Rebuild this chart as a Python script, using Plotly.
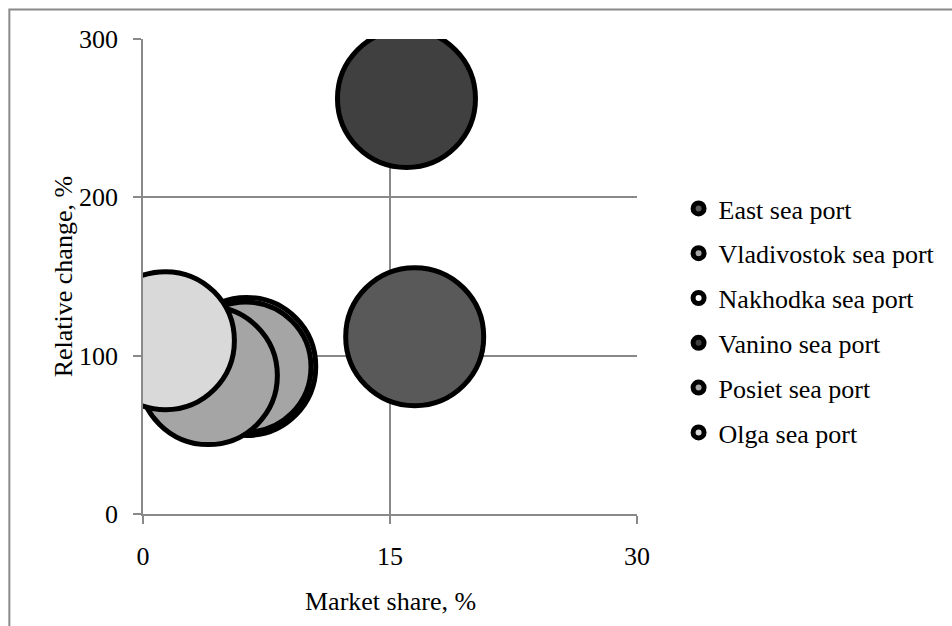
import plotly.graph_objects as go

# ---- data ----
ports = ["East sea port", "Vladivostok sea port", "Nakhodka sea port",
         "Vanino sea port", "Posiet sea port", "Olga sea port"]
market_share = [16.5, 6.25, 6.3, 16.0, 3.97, 1.36]          # %
relative_change = [112.0, 92.8, 93.2, 262.4, 87.4, 109.5]   # %
bubble_size = [1.0, 0.89, 1.0, 1.0, 1.0, 1.0]
fill_colors = ["#595959", "#A5A5A5", "#FFFFFF", "#404040", "#A5A5A5", "#D9D9D9"]
x_ticks = [0, 15, 30]
y_ticks = [0, 100, 200, 300]

draw_order = [0, 3, 2, 1, 4, 5]   # Nakhodka lies beneath Vladivostok

FONT = "Liberation Serif"
GRID = "#898989"
BUBBLE_D = 138
sizeref = 2.0 * max(bubble_size) / BUBBLE_D ** 2

fig = go.Figure()
for i in draw_order:
    fig.add_trace(go.Scatter(
        x=[market_share[i]], y=[relative_change[i]], mode="markers",
        marker=dict(size=[bubble_size[i]], sizemode="area", sizeref=sizeref,
                    color=fill_colors[i], opacity=1,
                    line=dict(color="black", width=5)),
        name=ports[i], showlegend=False, cliponaxis=True, hoverinfo="skip"))

# legend entries (small ringed markers as in the original)
for i, p in enumerate(ports):
    fig.add_trace(go.Scatter(
        x=[None], y=[None], mode="markers", name=p, legendgroup=p,
        marker=dict(size=11, color=fill_colors[i], line=dict(color="black", width=5))))

L, R, T, B = 143, 642, 39, 514
W, H = 952, 626
PW, PH = R - L, B - T
fig.update_layout(
    width=W, height=H,
    margin=dict(l=L, r=W - R, t=T, b=H - B, pad=0),
    paper_bgcolor="white", plot_bgcolor="white",
    font=dict(family=FONT, size=26, color="black"),
    showlegend=True,
    legend=dict(x=(684 - L) / PW, xanchor="left",
                y=(B - 185) / PH, yanchor="top",
                traceorder="grouped", tracegroupgap=8, itemsizing="trace",
                font=dict(family=FONT, size=26, color="black"),
                bgcolor="rgba(0,0,0,0)", borderwidth=0),
    xaxis=dict(range=[0, 30], tickvals=x_ticks, showgrid=True, gridcolor=GRID,
               gridwidth=1.5, showline=True, linecolor=GRID, linewidth=1.5,
               ticks="outside", ticklen=8, tickcolor=GRID, tickwidth=1.5,
               zeroline=False, layer="below traces", ticklabelstandoff=10),
    yaxis=dict(range=[0, 300], tickvals=y_ticks, showgrid=True, gridcolor=GRID,
               gridwidth=1.5, showline=True, linecolor=GRID, linewidth=1.5,
               ticks="outside", ticklen=8, tickcolor=GRID, tickwidth=1.5,
               zeroline=False, layer="below traces", ticklabelstandoff=10),
    annotations=[
        dict(text="Market share, %", xref="paper", yref="paper",
             x=0.5, y=(B - 601.5) / PH, xanchor="center", yanchor="middle",
             showarrow=False, font=dict(family=FONT, size=26, color="black")),
        dict(text="Relative change, %", xref="paper", yref="paper",
             x=(63 - L) / PW, y=0.5, xanchor="center", yanchor="middle",
             textangle=-90, showarrow=False,
             font=dict(family=FONT, size=26, color="black")),
    ],
)

# outer chart border (top and left visible in the original)
fig.add_shape(type="rect", xref="paper", yref="paper",
              x0=(8 - L) / PW, x1=(980 - L) / PW,
              y0=(B - 660) / PH, y1=(B - 9.5) / PH,
              line=dict(color="#8A8A8A", width=2), fillcolor="rgba(0,0,0,0)",
              layer="below")

fig.write_html("out.html")
